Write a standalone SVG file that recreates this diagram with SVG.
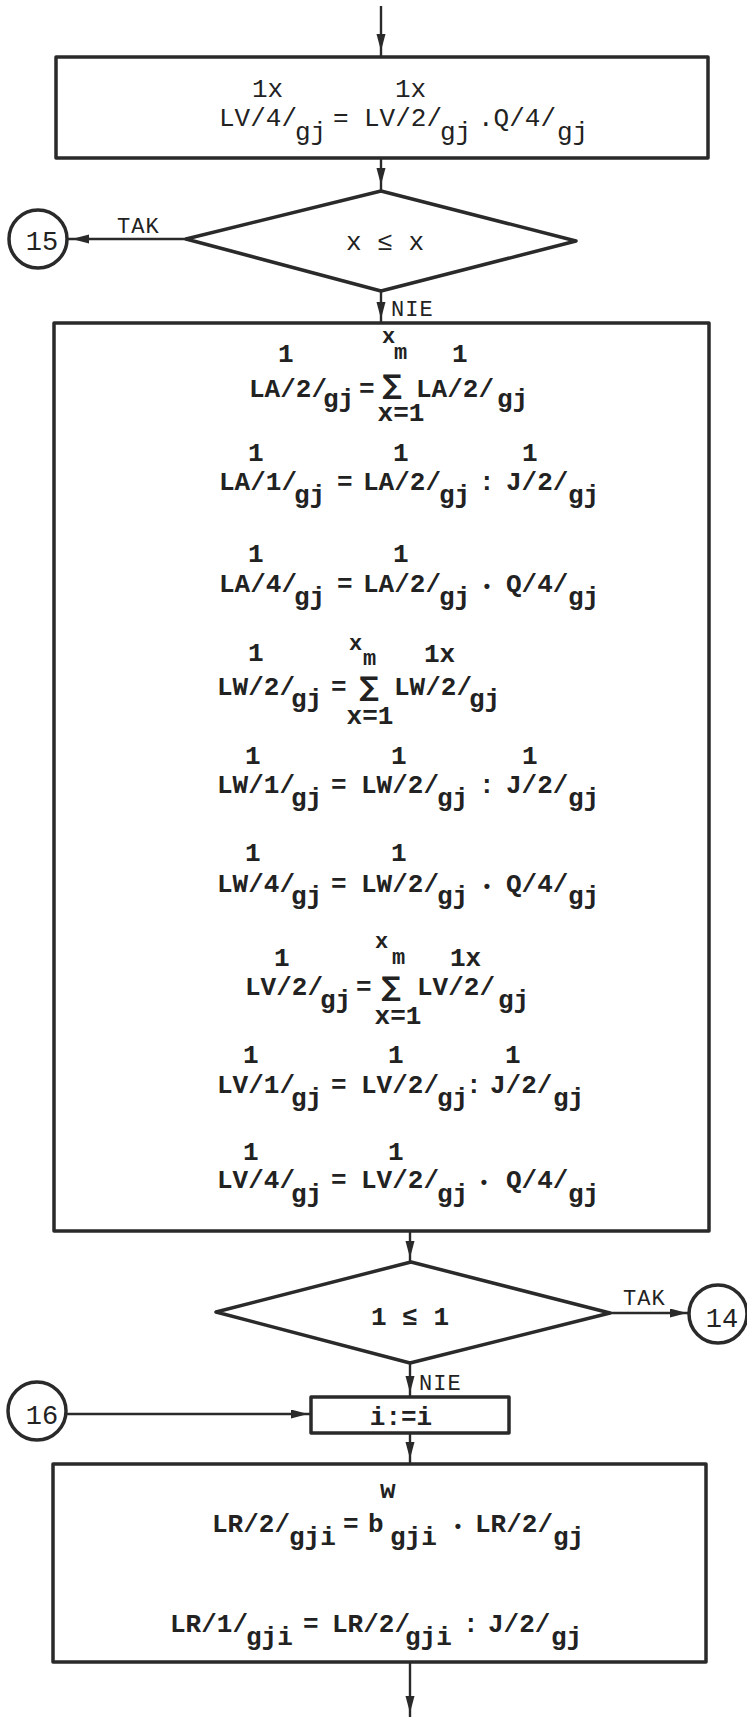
<svg xmlns="http://www.w3.org/2000/svg" width="747" height="1717" viewBox="0 0 747 1717">
<defs>
<marker id="ah" markerUnits="userSpaceOnUse" markerWidth="18" markerHeight="10" refX="17" refY="4.5" orient="auto">
<path d="M0,0 L17,4.5 L0,9 z" fill="#2a2a2a"/>
</marker>
<style>
.s{fill:none;stroke:#2a2a2a;stroke-width:3.5;stroke-linejoin:round}
.c{fill:none;stroke:#2a2a2a;stroke-width:2.4;marker-mid:url(#ah)}
.t{font-family:"Liberation Mono","DejaVu Sans Mono",monospace;font-size:26px;fill:#222}
.b{font-weight:bold}
.m{text-anchor:middle}
.l{font-size:22px;letter-spacing:1px}
.n{font-size:27px;text-anchor:middle}
.d{font-size:18px;text-anchor:middle}
.xm{font-size:22px}
.sum{font-family:"DejaVu Sans",sans-serif;font-size:27px;text-anchor:middle;fill:#222;font-weight:bold}
</style>
</defs>
<rect width="747" height="1717" fill="#ffffff"/>

<g id="connectors">
<path class="c" d="M381 6 V51 V57"/>
<path class="c" d="M381 158 V185 V191"/>
<path class="c" d="M186 239 H72 H68"/>
<path class="c" d="M381 291 V319 V323"/>
<path class="c" d="M410 1231 V1258 V1262"/>
<path class="c" d="M610 1313 H687 H689"/>
<path class="c" d="M410 1363 V1393 V1397"/>
<path class="c" d="M66 1414 H308 H311"/>
<path class="c" d="M410 1433 V1459 V1464"/>
<path class="c" d="M410 1662 V1713 V1717"/>
</g>

<g id="box1">
<rect class="s" x="56" y="57" width="652" height="101"/>
<text class="t" x="252" y="97">1x</text>
<text class="t" x="395" y="97">1x</text>
<text class="t" x="219" y="126">LV/4/</text>
<text class="t" x="295" y="140">gj</text>
<text class="t" x="333" y="126">=</text>
<text class="t" x="364" y="126">LV/2/</text>
<text class="t" x="440" y="140">gj</text>
<text class="t" x="478" y="126">.Q/4/</text>
<text class="t" x="557" y="140">gj</text>
</g>

<g id="decision1">
<polygon class="s" points="381,191 576,241 381,291 186,239"/>
<text class="t m" x="385" y="250">x ≤ x</text>
<text class="t l" x="117" y="233">TAK</text>
<text class="t l" x="391" y="316">NIE</text>
</g>

<g id="conn15">
<circle class="s" cx="38" cy="239" r="29"/>
<text class="t n" x="42" y="250">15</text>
</g>

<g id="box2">
<rect class="s" x="54" y="323" width="655" height="908"/>
<!-- row 1 -->
<text class="t b" x="278" y="362">1</text>
<text class="t b xm" x="382" y="343">x</text>
<text class="t b xm" x="394" y="359">m</text>
<text class="t b" x="452" y="362">1</text>
<text class="t b" x="249" y="397">LA/2/</text>
<text class="t b" x="323" y="407">gj</text>
<text class="t b" x="359" y="397">=</text>
<text class="sum" x="392" y="394">∑</text>
<text class="t b" x="416" y="397">LA/2/</text>
<text class="t b" x="497" y="407">gj</text>
<text class="t b m" x="401" y="421">x=1</text>
<!-- row 2 -->
<text class="t b" x="248" y="461">1</text>
<text class="t b" x="393" y="461">1</text>
<text class="t b" x="522" y="461">1</text>
<text class="t b" x="219" y="490">LA/1/</text>
<text class="t b" x="294" y="503">gj</text>
<text class="t b" x="337" y="490">=</text>
<text class="t b" x="363" y="490">LA/2/</text>
<text class="t b" x="439" y="503">gj</text>
<text class="t b" x="479" y="490">:</text>
<text class="t b" x="506" y="490">J/2/</text>
<text class="t b" x="568" y="503">gj</text>
<!-- row 3 -->
<text class="t b" x="248" y="562">1</text>
<text class="t b" x="393" y="562">1</text>
<text class="t b" x="219" y="592">LA/4/</text>
<text class="t b" x="294" y="605">gj</text>
<text class="t b" x="337" y="592">=</text>
<text class="t b" x="363" y="592">LA/2/</text>
<text class="t b" x="439" y="605">gj</text>
<text class="t b d" x="487" y="593">•</text>
<text class="t b" x="506" y="592">Q/4/</text>
<text class="t b" x="568" y="605">gj</text>
<!-- row 4 -->
<text class="t b" x="248" y="661">1</text>
<text class="t b xm" x="349" y="650">x</text>
<text class="t b xm" x="363" y="665">m</text>
<text class="t b" x="424" y="662">1x</text>
<text class="t b" x="217" y="695">LW/2/</text>
<text class="t b" x="291" y="707">gj</text>
<text class="t b" x="331" y="695">=</text>
<text class="sum" x="369" y="696">∑</text>
<text class="t b" x="394" y="695">LW/2/</text>
<text class="t b" x="469" y="707">gj</text>
<text class="t b m" x="370" y="724">x=1</text>
<!-- row 5 -->
<text class="t b" x="245" y="764">1</text>
<text class="t b" x="391" y="764">1</text>
<text class="t b" x="522" y="764">1</text>
<text class="t b" x="217" y="793">LW/1/</text>
<text class="t b" x="291" y="806">gj</text>
<text class="t b" x="331" y="793">=</text>
<text class="t b" x="361" y="793">LW/2/</text>
<text class="t b" x="437" y="806">gj</text>
<text class="t b" x="479" y="793">:</text>
<text class="t b" x="506" y="793">J/2/</text>
<text class="t b" x="568" y="806">gj</text>
<!-- row 6 -->
<text class="t b" x="245" y="861">1</text>
<text class="t b" x="391" y="861">1</text>
<text class="t b" x="217" y="892">LW/4/</text>
<text class="t b" x="291" y="904">gj</text>
<text class="t b" x="331" y="892">=</text>
<text class="t b" x="361" y="892">LW/2/</text>
<text class="t b" x="437" y="904">gj</text>
<text class="t b d" x="487" y="893">•</text>
<text class="t b" x="506" y="892">Q/4/</text>
<text class="t b" x="568" y="904">gj</text>
<!-- row 7 -->
<text class="t b" x="274" y="966">1</text>
<text class="t b xm" x="375" y="948">x</text>
<text class="t b xm" x="392" y="964">m</text>
<text class="t b" x="450" y="966">1x</text>
<text class="t b" x="245" y="995">LV/2/</text>
<text class="t b" x="320" y="1008">gj</text>
<text class="t b" x="356" y="995">=</text>
<text class="sum" x="391" y="996">∑</text>
<text class="t b" x="417" y="995">LV/2/</text>
<text class="t b" x="498" y="1008">gj</text>
<text class="t b m" x="398" y="1024">x=1</text>
<!-- row 8 -->
<text class="t b" x="243" y="1063">1</text>
<text class="t b" x="388" y="1063">1</text>
<text class="t b" x="505" y="1063">1</text>
<text class="t b" x="217" y="1093">LV/1/</text>
<text class="t b" x="291" y="1106">gj</text>
<text class="t b" x="331" y="1093">=</text>
<text class="t b" x="361" y="1093">LV/2/</text>
<text class="t b" x="437" y="1106">gj</text>
<text class="t b" x="466" y="1093">:</text>
<text class="t b" x="490" y="1093">J/2/</text>
<text class="t b" x="553" y="1106">gj</text>
<!-- row 9 -->
<text class="t b" x="243" y="1160">1</text>
<text class="t b" x="388" y="1160">1</text>
<text class="t b" x="217" y="1188">LV/4/</text>
<text class="t b" x="291" y="1202">gj</text>
<text class="t b" x="331" y="1188">=</text>
<text class="t b" x="361" y="1188">LV/2/</text>
<text class="t b" x="437" y="1202">gj</text>
<text class="t b d" x="484" y="1189">•</text>
<text class="t b" x="506" y="1188">Q/4/</text>
<text class="t b" x="568" y="1202">gj</text>
</g>

<g id="decision2">
<polygon class="s" points="411,1262 610,1313 410,1363 216,1312"/>
<text class="t b m" x="410" y="1325">1 ≤ 1</text>
<text class="t l" x="623" y="1305">TAK</text>
<text class="t l" x="419" y="1390">NIE</text>
</g>

<g id="conn14">
<circle class="s" cx="718" cy="1314" r="29"/>
<text class="t n" x="722" y="1327">14</text>
</g>

<g id="conn16">
<circle class="s" cx="37" cy="1411" r="29"/>
<text class="t n" x="42" y="1424">16</text>
</g>

<g id="assign">
<rect class="s" x="311" y="1397" width="198" height="36"/>
<text class="t b m" x="401" y="1425">i:=i</text>
</g>

<g id="box3">
<rect class="s" x="53" y="1464" width="653" height="198"/>
<text class="t b" x="380" y="1498" font-size="20">w</text>
<text class="t b" x="212" y="1532">LR/2/</text>
<text class="t b" x="289" y="1545">gji</text>
<text class="t b" x="343" y="1532">=</text>
<text class="t b" x="368" y="1532">b</text>
<text class="t b" x="390" y="1545">gji</text>
<text class="t b d" x="458" y="1533">•</text>
<text class="t b" x="475" y="1532">LR/2/</text>
<text class="t b" x="553" y="1545">gj</text>
<text class="t b" x="170" y="1632">LR/1/</text>
<text class="t b" x="246" y="1645">gji</text>
<text class="t b" x="303" y="1632">=</text>
<text class="t b" x="332" y="1632">LR/2/</text>
<text class="t b" x="405" y="1645">gji</text>
<text class="t b" x="463" y="1632">:</text>
<text class="t b" x="488" y="1632">J/2/</text>
<text class="t b" x="551" y="1645">gj</text>
</g>
</svg>
